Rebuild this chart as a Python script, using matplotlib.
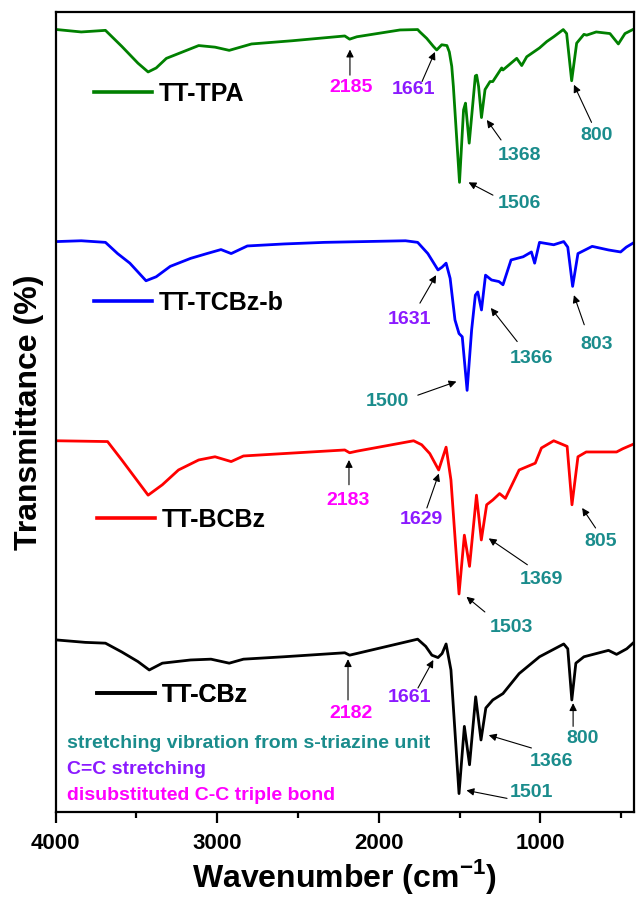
import matplotlib
matplotlib.use("Agg")
import matplotlib.pyplot as plt
from matplotlib.lines import Line2D

plt.rcParams['font.family'] = ['Liberation Sans', 'DejaVu Sans']
plt.rcParams['font.weight'] = 'bold'
plt.rcParams['mathtext.fontset'] = 'custom'
plt.rcParams['mathtext.rm'] = 'Liberation Sans:bold'
plt.rcParams['mathtext.bf'] = 'Liberation Sans:bold'

# ---------------- data (wavenumber cm-1, transmittance, offset-stacked a.u.) ----------------
tpa_wn = [3992, 3841, 3691, 3590, 3490, 3427, 3377, 3314, 3214, 3114, 3013, 2925, 2787, 2536,
          2210, 2180, 2135, 1868, 1759, 1745, 1703, 1662, 1641, 1610, 1578, 1563, 1548, 1538,
          1500, 1475, 1463, 1440, 1402, 1394, 1382, 1364, 1342, 1311, 1294, 1239, 1231, 1146,
          1115, 1084, 1005, 960, 917, 858, 837, 806, 775, 730, 713, 654, 569, 517, 476, 408]
tpa_t = [97.8, 97.5, 97.7, 95.7, 93.6, 92.5, 93.0, 94.2, 95.0, 95.8, 95.6, 95.2, 96.0, 96.4,
         97.0, 96.6, 96.9, 97.75, 97.8, 97.5, 96.7, 95.7, 95.25, 95.9, 95.8, 95.0, 93.2, 90.7,
         78.7, 87.75, 88.6, 83.6, 92.0, 92.1, 90.7, 86.8, 90.3, 91.3, 91.3, 93.0, 92.75, 94.2,
         93.3, 94.4, 95.5, 96.3, 96.9, 97.8, 97.3, 91.4, 96.1, 97.2, 97.1, 97.5, 97.3, 96.0, 97.3, 98.0]

tcbz_wn = [3992, 3841, 3691, 3616, 3540, 3440, 3377, 3290, 3164, 3063, 2976, 2913, 2813, 2587,
           2336, 1834, 1759, 1696, 1633, 1608, 1583, 1558, 1528, 1503, 1483, 1453, 1425, 1402,
           1387, 1364, 1339, 1302, 1256, 1231, 1181, 1106, 1055, 1035, 1005, 917, 855, 830,
           800, 767, 679, 578, 503, 468, 410]
tcbz_t = [71.3, 71.4, 71.2, 69.8, 68.6, 66.4, 66.9, 68.2, 69.2, 69.8, 70.3, 69.8, 70.75, 71.0,
          71.2, 71.4, 71.2, 69.8, 67.75, 68.1, 68.6, 66.7, 61.5, 59.8, 59.4, 52.7, 60.25, 64.6,
          65.0, 62.75, 67.1, 66.5, 66.3, 65.9, 69.0, 69.4, 70.0, 68.6, 71.2, 70.9, 71.3, 70.6,
          65.7, 69.8, 70.7, 70.25, 70.0, 70.6, 71.3]

bcbz_wn = [3992, 3678, 3590, 3427, 3339, 3239, 3114, 3013, 2913, 2837, 2587, 2210, 2180, 2135,
           1784, 1734, 1684, 1629, 1583, 1553, 1503, 1470, 1438, 1395, 1365, 1332, 1294, 1252,
           1216, 1131, 1031, 993, 917, 834, 804, 767, 716, 528, 490, 410]
bcbz_t = [46.4, 46.3, 44.0, 39.6, 40.9, 42.75, 44.0, 44.4, 43.8, 44.5, 44.8, 45.25, 44.9, 45.1,
          46.4, 45.9, 44.8, 42.75, 45.6, 41.5, 27.25, 34.6, 30.7, 39.6, 34.0, 38.4, 39.0, 39.8,
          39.2, 42.75, 43.6, 45.5, 46.4, 45.7, 38.4, 44.4, 45.0, 45.0, 45.4, 46.1]

cbz_wn = [3992, 3816, 3691, 3590, 3490, 3420, 3339, 3164, 3038, 2925, 2837, 2587, 2210, 2180,
          1759, 1709, 1671, 1633, 1608, 1583, 1553, 1503, 1470, 1438, 1400, 1367, 1337, 1294,
          1231, 1131, 1005, 855, 830, 805, 780, 730, 578, 528, 465, 410]
cbz_t = [21.5, 21.2, 21.1, 20.0, 18.8, 17.75, 18.6, 19.0, 19.1, 18.6, 19.1, 19.4, 19.9, 19.6,
         21.6, 20.7, 19.6, 19.3, 19.8, 21.0, 17.75, 2.3, 10.7, 5.9, 14.4, 9.0, 13.0, 14.0,
         14.8, 17.3, 19.4, 21.0, 20.4, 14.0, 18.6, 19.4, 20.2, 19.7, 20.4, 21.4]

series_names = ["TT-TPA", "TT-TCBz-b", "TT-BCBz", "TT-CBz"]
series_colors = ["#008000", "#0000FF", "#FF0000", "#000000"]

TEAL = "#1A8C8C"
PURPLE = "#8B1AFF"
MAGENTA = "#FF00FF"

# peak labels: text, colour, text position, arrow tail, arrow head (data coords)
peak_labels = [
    ("2185", MAGENTA, (2171, 90.5), (2178, 92.1), (2178, 95.3)),
    ("1661", PURPLE, (1783, 90.25), (1732, 91.3), (1652, 95.0)),
    ("1368", TEAL, (1130, 82.1), (1243, 84.0), (1331, 86.5)),
    ("1506", TEAL, (1130, 76.0), (1293, 77.1), (1444, 78.7)),
    ("800", TEAL, (654, 84.5), (683, 86.2), (792, 90.9)),
    ("1631", PURPLE, (1808, 61.5), (1745, 63.6), (1645, 67.1)),
    ("1366", TEAL, (1055, 56.7), (1143, 58.8), (1306, 63.0)),
    ("1500", TEAL, (1946, 51.3), (1758, 52.1), (1519, 53.8)),
    ("803", TEAL, (654, 58.4), (728, 60.9), (792, 64.6)),
    ("2183", MAGENTA, (2190, 38.9), (2184, 40.9), (2184, 44.0)),
    ("1629", PURPLE, (1733, 36.5), (1702, 38.0), (1628, 42.3)),
    ("1369", TEAL, (992, 29.1), (1080, 30.9), (1319, 34.2)),
    ("1503", TEAL, (1180, 23.0), (1343, 25.0), (1457, 26.9)),
    ("805", TEAL, (628, 33.8), (658, 35.5), (741, 38.0)),
    ("2182", MAGENTA, (2171, 12.3), (2190, 14.0), (2190, 19.1)),
    ("1661", PURPLE, (1808, 14.3), (1757, 15.5), (1662, 19.0)),
    ("1366", TEAL, (930, 6.3), (1055, 8.0), (1319, 9.6)),
    ("1501", TEAL, (1055, 2.4), (1206, 1.7), (1457, 2.7)),
    ("800", TEAL, (741, 9.2), (797, 10.7), (797, 13.6)),
]

notes = [("stretching vibration from s-triazine unit", TEAL),
         ("C=C stretching", PURPLE),
         ("disubstituted C-C triple bond", MAGENTA)]

xticks_major = [4000, 3000, 2000, 1000]
xticks_minor = [3500, 2500, 1500, 500]

# ---------------- figure ----------------
fig = plt.figure(figsize=(6.36, 8.99), dpi=100)
ax = fig.add_axes([0.0873, 0.0968, 0.9096, 0.8899])

series = [(tpa_wn, tpa_t), (tcbz_wn, tcbz_t), (bcbz_wn, bcbz_t), (cbz_wn, cbz_t)]
lines = []
for (wn, t), c in zip(series, series_colors):
    ln, = ax.plot(wn, t, color=c, lw=2.0, solid_joinstyle='round')
    lines.append(ln)

ax.set_xlim(4000, 420)
ax.set_ylim(0, 100)

# legends (one per curve)
leg_pos = [(0.0666, 0.898), (0.0666, 0.636), (0.0718, 0.365), (0.0718, 0.146)]
for ln, name, c, (lx, ly) in zip(lines, series_names, series_colors, leg_pos):
    h = Line2D([], [], color=c, lw=2.6)
    lg = ax.legend([h], [name], loc='center left', bbox_to_anchor=(lx, ly),
                   frameon=False, borderpad=0, borderaxespad=0, handlelength=2.3,
                   handletextpad=0.3, prop={'size': 18, 'weight': 'bold'})
    ax.add_artist(lg)

for txt, col, txy, tail, head in peak_labels:
    ax.text(txy[0], txy[1], txt, color=col, fontsize=14, fontweight='bold',
            ha='center', va='center')
    ax.annotate('', xy=head, xytext=tail,
                arrowprops=dict(arrowstyle='-|>', color='black', lw=0.8,
                                mutation_scale=11, shrinkA=0, shrinkB=0))

note_y = [8.6, 5.25, 2.1]
for (txt, col), yy in zip(notes, note_y):
    ax.text(3929, yy, txt, color=col, fontsize=14, fontweight='bold',
            ha='left', va='center')

ax.set_xticks(xticks_major)
ax.set_xticks(xticks_minor, minor=True)
ax.set_xticklabels([str(v) for v in xticks_major], fontsize=16, fontweight='bold')
ax.tick_params(axis='x', which='major', direction='out', length=8, width=1.6, pad=7)
ax.tick_params(axis='x', which='minor', direction='out', length=4.5, width=1.6)
ax.set_yticks([])
for s in ax.spines.values():
    s.set_linewidth(1.6)

ax.set_xlabel(r'Wavenumber (cm$^{\mathbf{-1}}$)', fontsize=23, fontweight='bold', labelpad=2)
ax.set_ylabel('Transmittance (%)', fontsize=23, fontweight='bold', labelpad=8)

fig.savefig('out.png', dpi=100)
